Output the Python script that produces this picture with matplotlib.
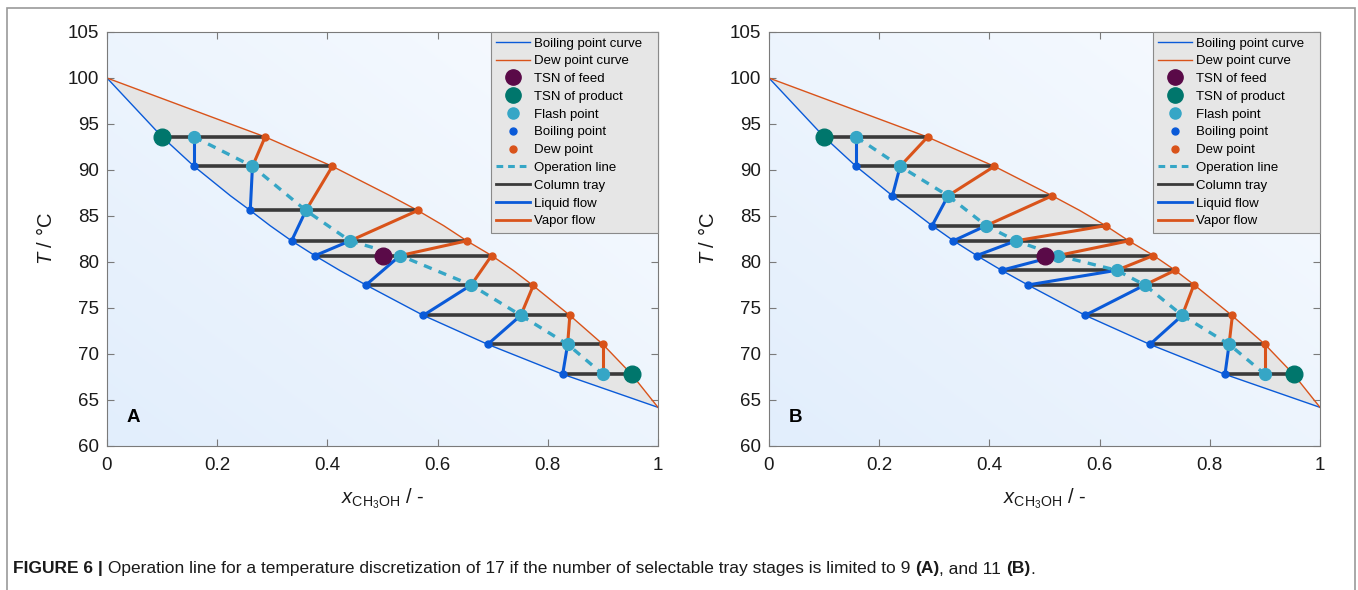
import matplotlib
matplotlib.use("Agg")
import matplotlib.pyplot as plt
import numpy as np
from matplotlib.lines import Line2D
from matplotlib.patches import Rectangle

plt.rcParams['font.family'] = ['Liberation Sans', 'DejaVu Sans']
plt.rcParams['mathtext.fontset'] = 'custom'
plt.rcParams['mathtext.rm'] = 'Liberation Sans'
plt.rcParams['mathtext.it'] = 'Liberation Sans:italic'

# phase envelope
boil_x = [0.0, 0.100, 0.158, 0.224, 0.260, 0.296, 0.335, 0.377, 0.422, 0.470, 0.574, 0.691, 0.827, 1.0]
boil_T = [100.0, 93.6, 90.4, 87.2, 85.6, 83.95, 82.3, 80.7, 79.1, 77.5, 74.2, 71.05, 67.8, 64.2]
dew_x = [0.0, 0.287, 0.409, 0.514, 0.564, 0.611, 0.653, 0.698, 0.737, 0.772, 0.840, 0.900, 0.952, 1.0]
dew_T = [100.0, 93.6, 90.4, 87.2, 85.6, 83.95, 82.3, 80.7, 79.1, 77.5, 74.2, 71.05, 67.8, 64.2]

feed = (0.5, 80.7)

# panel A: 9 trays (first boil / last dew entries are the product TSNs)
A_T = [93.6, 90.4, 85.6, 82.3, 80.7, 77.5, 74.2, 71.05, 67.8]
A_boil = [0.100, 0.158, 0.260, 0.335, 0.378, 0.470, 0.574, 0.691, 0.827]
A_flash = [0.158, 0.264, 0.361, 0.441, 0.532, 0.661, 0.751, 0.836, 0.900]
A_dew = [0.287, 0.409, 0.564, 0.653, 0.698, 0.774, 0.840, 0.900, 0.952]

# panel B: 11 trays
B_T = [93.6, 90.4, 87.2, 83.95, 82.3, 80.7, 79.1, 77.5, 74.2, 71.05, 67.8]
B_boil = [0.100, 0.158, 0.224, 0.296, 0.3345, 0.377, 0.422, 0.4695, 0.5735, 0.6915, 0.8276]
B_flash = [0.158, 0.238, 0.325, 0.394, 0.448, 0.524, 0.631, 0.682, 0.750, 0.835, 0.900]
B_dew = [0.288, 0.409, 0.514, 0.611, 0.653, 0.6975, 0.737, 0.771, 0.841, 0.900, 0.953]

c_boil = '#0a5ad8'
c_dew = '#d9531a'
c_flash = '#36a6c6'
c_prod = '#00766c'
c_feed = '#5a0a48'
c_tray = '#3a3a3a'

fig = plt.figure(figsize=(13.58, 5.90), dpi=100)


def draw_panel(ax, T, xb, xf, xd, letter):
    # background gradient
    gx, gy = np.meshgrid(np.linspace(0, 1, 200), np.linspace(0, 1, 200))
    g = (gx + gy) / 2
    lo = np.array([226, 238, 252]) / 255
    hi = np.array([248, 251, 255]) / 255
    img = lo + (hi - lo) * g[..., None]
    ax.imshow(img, extent=[0, 1, 60, 105], origin='lower', aspect='auto', zorder=0)

    ax.fill(boil_x + dew_x[::-1], boil_T + dew_T[::-1], color='#e5e5e5', lw=0, zorder=1)
    ax.plot(boil_x, boil_T, color=c_boil, lw=1.0, zorder=2)
    ax.plot(dew_x, dew_T, color=c_dew, lw=1.0, zorder=2)

    n = len(T)
    for i in range(n):
        ax.plot([xb[i], xd[i]], [T[i], T[i]], color=c_tray, lw=2.6, zorder=3)
    for i in range(n - 1):
        ax.plot([xf[i], xb[i + 1]], [T[i], T[i + 1]], color=c_boil, lw=2.2, zorder=4)
        ax.plot([xf[i + 1], xd[i]], [T[i + 1], T[i]], color=c_dew, lw=2.2, zorder=4)
    ax.plot(xf, T, color=c_flash, lw=2.4, dashes=(2.5, 2.2), zorder=5)

    ax.plot(xb[1:], T[1:], 'o', color=c_boil, ms=5, zorder=6)
    ax.plot(xd[:-1], T[:-1], 'o', color=c_dew, ms=5, zorder=6)
    ax.plot(xf, T, 'o', color=c_flash, ms=8.5, zorder=7)
    ax.plot([xb[0], xd[-1]], [T[0], T[-1]], 'o', color=c_prod, ms=12, zorder=8)
    ax.plot([feed[0]], [feed[1]], 'o', color=c_feed, ms=12, zorder=8)

    ax.set_xlim(0, 1)
    ax.set_ylim(60, 105)
    ax.set_xticks([0, 0.2, 0.4, 0.6, 0.8, 1])
    ax.set_xticklabels(['0', '0.2', '0.4', '0.6', '0.8', '1'])
    ax.set_yticks(np.arange(60, 106, 5))
    ax.tick_params(direction='in', top=True, right=True, length=5, width=0.8,
                   color='#7a7a7a', labelsize=13.5, labelcolor='#1a1a1a', pad=6)
    ax.tick_params(axis='x', pad=8)
    for s in ax.spines.values():
        s.set_color('#7a7a7a')
        s.set_linewidth(0.8)
    ax.set_xlabel(r'$x_{\mathrm{CH_3OH}}$ / -', fontsize=14.5, color='#1a1a1a', labelpad=9)
    ax.set_ylabel(r'$T$ / °C', fontsize=14.5, color='#1a1a1a', labelpad=8)
    ax.text(0.035, 0.068, letter, transform=ax.transAxes, fontsize=13.5,
            fontweight='bold', va='center', zorder=9)

    handles = [
        Line2D([], [], color=c_boil, lw=1.0),
        Line2D([], [], color=c_dew, lw=1.0),
        Line2D([], [], color=c_feed, marker='o', ls='', ms=11),
        Line2D([], [], color=c_prod, marker='o', ls='', ms=11),
        Line2D([], [], color=c_flash, marker='o', ls='', ms=8),
        Line2D([], [], color=c_boil, marker='o', ls='', ms=5),
        Line2D([], [], color=c_dew, marker='o', ls='', ms=5),
        Line2D([], [], color=c_flash, lw=2.2, dashes=(2.2, 1.6)),
        Line2D([], [], color=c_tray, lw=2.0),
        Line2D([], [], color=c_boil, lw=2.0),
        Line2D([], [], color=c_dew, lw=2.0),
    ]
    labels = ['Boiling point curve   ', 'Dew point curve', 'TSN of feed', 'TSN of product',
              'Flash point', 'Boiling point', 'Dew point', 'Operation line',
              'Column tray', 'Liquid flow', 'Vapor flow']
    leg = ax.legend(handles, labels, loc='upper right', fontsize=9.5, fancybox=False,
                    framealpha=1, facecolor='#e6e6e6', edgecolor='#8a8a8a',
                    borderaxespad=0, handlelength=2.6, handletextpad=0.25,
                    labelspacing=0.42, borderpad=0.4)
    leg.get_frame().set_linewidth(0.8)
    leg.set_zorder(10)


axA = fig.add_axes([107 / 1358, 144 / 590, 551 / 1358, 414 / 590])
axB = fig.add_axes([769 / 1358, 144 / 590, 551 / 1358, 414 / 590])
draw_panel(axA, A_T, A_boil, A_flash, A_dew, 'A')
draw_panel(axB, B_T, B_boil, B_flash, B_dew, 'B')

# outer frame
fig.patches.append(Rectangle((7 / 1358, -0.05), 1348 / 1358, 1.05 - 8 / 590,
                             transform=fig.transFigure, fill=False,
                             edgecolor='#9a9a9a', lw=1.2))

# caption with bold parts
pieces = [('FIGURE 6 |', 'bold'),
          (' Operation line for a temperature discretization of 17 if the number of '
           'selectable tray stages is limited to 9 ', 'normal'),
          ('(A)', 'bold'), (', and 11 ', 'normal'), ('(B)', 'bold'), ('.', 'normal')]
renderer = fig.canvas.get_renderer()
xpos = 13
for txt, w in pieces:
    t = fig.text(xpos / 1358, 1 - 569 / 590, txt, fontsize=12.5, fontweight=w,
                 va='center', ha='left', color='#1a1a1a')
    bb = t.get_window_extent(renderer)
    xpos += bb.width

fig.savefig('out.png', dpi=100)
